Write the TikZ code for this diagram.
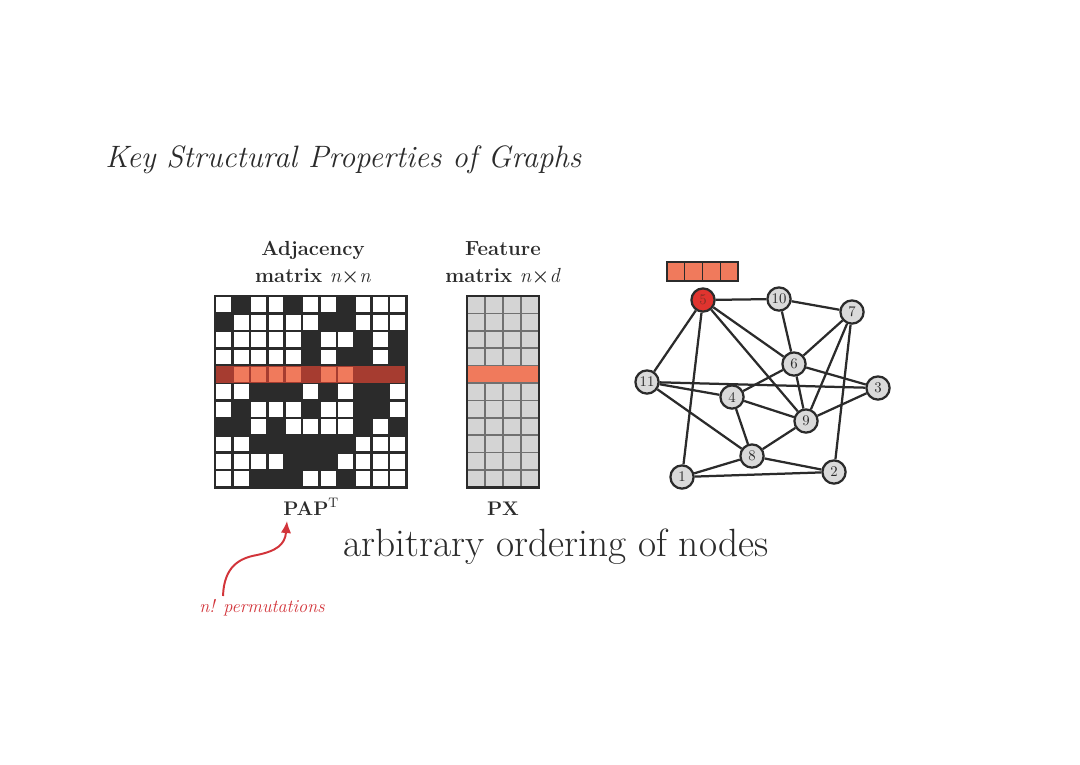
\documentclass[tikz,border=0pt]{standalone}
\usepackage{fontspec}
\usetikzlibrary{arrows.meta,positioning}
\definecolor{ink}{HTML}{2B2B2B}
\definecolor{salmon}{HTML}{F07A5C}
\definecolor{rowred}{HTML}{A63C30}
\definecolor{cellgray}{HTML}{D4D4D4}
\definecolor{gridgray}{HTML}{707070}
\definecolor{nodegray}{HTML}{DADADA}
\definecolor{hotred}{HTML}{E0342F}
\definecolor{notered}{HTML}{D2343A}

\begin{document}
\begin{tikzpicture}[
x=0.025cm, y=-0.025cm,
vertex/.style={circle, draw=ink, line width=1.6pt, fill=nodegray, minimum size=0.58cm, inner sep=0pt, font=\fontsize{10.5}{11}\selectfont, text=ink},
edge/.style={draw=ink, line width=1.6pt},
matlabel/.style={font=\fontsize{14.5}{18.5}\selectfont\bfseries, align=center, text=ink, inner sep=0pt},
prodlabel/.style={font=\fontsize{14}{16}\selectfont\bfseries, text=ink, inner sep=0pt},
note/.style={font=\fontsize{13}{15}\selectfont\itshape, text=notered, inner sep=0pt},
notearrow/.style={-{Latex[length=3mm,width=2.6mm]}, draw=notered, line width=1.4pt}
]
\useasboundingbox (0,0) rectangle (1080,764);

% title and caption
\node[font=\fontsize{22}{26}\selectfont\itshape, text=ink, anchor=base west, inner sep=0pt] (title) at (105,167) {Key Structural Properties of Graphs};
\node[font=\fontsize{28}{32}\selectfont, text=ink, anchor=base west, inner sep=0pt] (caption) at (343,556) {arbitrary ordering of nodes};

% adjacency matrix
\fill[ink] (215,296) rectangle (406.4,487.4);
\fill[rowred] (215,{296+4*17.4}) rectangle (406.4,{296+5*17.4});
\foreach \bits [count=\r] in {
  {0,1,0,0,1,0,0,1,0,0,0},
  {1,0,0,0,0,0,1,1,0,0,0},
  {0,0,0,0,0,1,0,0,1,0,1},
  {0,0,0,0,0,1,0,1,1,0,1},
  {1,0,0,0,0,1,0,0,1,1,1},
  {0,0,1,1,1,0,1,0,1,1,0},
  {0,1,0,0,0,1,0,0,1,1,0},
  {1,1,0,1,0,0,0,0,1,0,1},
  {0,0,1,1,1,1,1,1,0,0,0},
  {0,0,0,0,1,1,1,0,0,0,0},
  {0,0,1,1,1,0,0,1,0,0,0}} {
  \foreach \b [count=\c] in \bits {
    \ifnum\b=0
      \ifnum\r=5 \def\cellcol{salmon}\else\def\cellcol{white}\fi
      \fill[\cellcol] ({215+(\c-1)*17.4+1.3},{296+(\r-1)*17.4+1.3}) rectangle ++(14.8,14.8);
    \fi
  }
}
\draw[ink, line width=2pt] (215,296) rectangle (406.4,487.4);
\node[matlabel, anchor=base] (adjtop) at (313,282) {Adjacency\\matrix \textit{\mdseries n}×\textit{\mdseries n}};
\node[prodlabel, anchor=base west] (pap) at (283,515) {PAP\textsuperscript{\mdseries T}};

% feature matrix
\fill[cellgray] (467,296) rectangle (539,487.4);
\foreach \c in {1,2,3}
  \draw[gridgray, line width=1.1pt] ({467+\c*18},296) -- ++(0,191.4);
\foreach \r in {1,...,10}
  \draw[gridgray, line width=1.1pt] (467,{296+\r*17.4}) -- ++(72,0);
\fill[salmon] (467,{296+4*17.4+0.6}) rectangle (539,{296+5*17.4-0.6});
\draw[ink, line width=2pt] (467,296) rectangle (539,487.4);
\node[matlabel, anchor=base] (feattop) at (503,282) {Feature\\matrix \textit{\mdseries n}×\textit{\mdseries d}};
\node[prodlabel, anchor=base] (px) at (503,515) {PX};

% feature vector of node 5
\fill[salmon] (667,262) rectangle (738,281);
\foreach \c in {1,2,3}
  \draw[ink, line width=1pt] ({667+\c*17.75},262) -- ++(0,19);
\draw[ink, line width=1.8pt] (667,262) rectangle (738,281);

% graph
\node[vertex, fill=hotred, text=rowred!80!black] (v5) at (703,300) {5};
\node[vertex] (v10) at (779,299) {10};
\node[vertex] (v7) at (852,312) {7};
\node[vertex] (v6) at (794,364) {6};
\node[vertex] (v11) at (647,382) {11};
\node[vertex] (v3) at (878,388) {3};
\node[vertex] (v4) at (732,397) {4};
\node[vertex] (v9) at (806,421) {9};
\node[vertex] (v8) at (752,456) {8};
\node[vertex] (v1) at (682,477) {1};
\node[vertex] (v2) at (834,472) {2};
\foreach \a/\b in {1/2,1/5,1/8,2/7,2/8,3/6,3/9,3/11,4/6,4/8,4/9,4/11,5/6,5/9,5/10,5/11,6/7,6/9,6/10,7/9,7/10,8/9,8/11}
  \draw[edge] (v\a) -- (v\b);

% permutation note
\node[note, anchor=base] (perm) at (262,612) {n! permutations};
\coordinate (tail) at (223,596);
\coordinate (tip) at (287,521);
\draw[notearrow] (tail) .. controls (224,566) and (240,558) .. (257,555) .. controls (276,551) and (285,545) .. (tip);
\end{tikzpicture}
\end{document}
